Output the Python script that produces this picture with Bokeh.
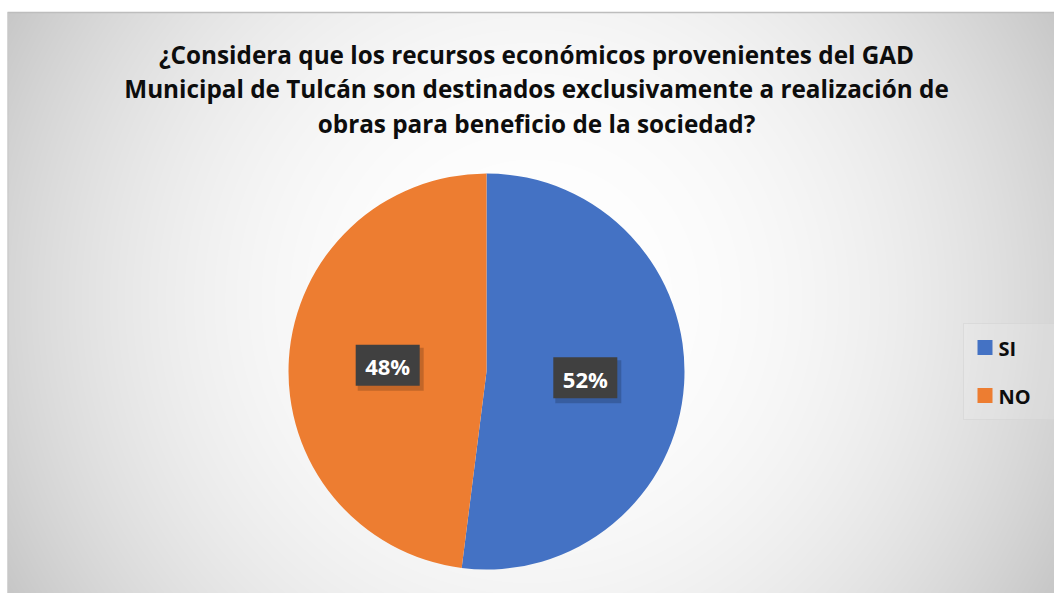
import numpy as np
from bokeh.plotting import figure
from bokeh.models import Range1d
from bokeh.core.properties import value
from bokeh.embed import file_html
from bokeh.resources import INLINE

# ---- data ----
categories = ["SI", "NO"]
shares = [52, 48]
labels = ["52%", "48%"]
colors = ["#4472C4", "#ED7D31"]
title_lines = [
    "¿Considera que los recursos económicos provenientes del GAD",
    "Municipal de Tulcán son destinados exclusivamente a realización de",
    "obras para beneficio de la sociedad?",
]

W, H = 1054, 593
p = figure(width=W, height=H, x_range=Range1d(0, W), y_range=Range1d(0, H),
           output_backend="svg", toolbar_location=None, min_border=0)
p.axis.visible = False
p.grid.visible = False
p.outline_line_color = None
p.background_fill_color = "white"
p.border_fill_color = "white"

# ---- radial gradient background (data coords: x = page x, y = 593 - page y) ----
x0 = 7
gh = H - 12
gw = W - x0
yy, xx = np.mgrid[0:gh, 0:gw]
page_x = xx + x0
page_y = H - yy
d = np.sqrt((page_x - 531.0) ** 2 + (page_y - 300.0) ** 2) / 600.0
v = 255 - 56 * np.clip(d, 0, 1.1) ** 2.3
v = np.clip(v, 0, 255).astype(np.uint32)
img = (np.uint32(255) << 24) | (v << 16) | (v << 8) | v
p.image_rgba(image=[img.astype(np.uint32)], x=x0, y=0, dw=gw, dh=gh)
p.line(x=[x0, W], y=[gh, gh], line_color="#bdbdbd", line_width=1.5)
p.line(x=[x0 + 0.5, x0 + 0.5], y=[0, gh], line_color="#c8c8c8", line_width=1)

# ---- title ----
title_x = 536
title_mid = [539, 505, 470]
p.text(x=[title_x] * 3, y=title_mid, text=title_lines,
       text_font=value("Open Sans"), text_font_style="bold", text_font_size="24.3px",
       text_color="#0d0d0d", text_align="center", text_baseline="middle")

# ---- pie ----
cx, cy, R = 486, 222, 198
fr = np.array(shares, dtype=float) / sum(shares)
cum = np.concatenate([[0], np.cumsum(fr)])
start = np.pi / 2 - cum[:-1] * 2 * np.pi
end = np.pi / 2 - cum[1:] * 2 * np.pi
p.wedge(x=cx, y=cy, radius=R, start_angle=list(start), end_angle=list(end),
        direction="clock", fill_color=colors, line_color=None)

# ---- data labels ----
mid = (start + end) / 2
lx = cx + 0.5 * R * np.cos(mid)
ly = cy + 0.5 * R * np.sin(mid)
p.rect(x=list(lx + 3), y=list(ly - 4), width=66, height=43,
       fill_color="black", fill_alpha=0.18, line_color=None)
p.rect(x=list(lx), y=list(ly), width=64, height=41,
       fill_color="#404040", line_color=None)
p.text(x=list(lx), y=list(ly - 1), text=labels,
       text_font=value("Open Sans"), text_font_style="bold", text_font_size="22px",
       text_color="white", text_align="center", text_baseline="middle")

# ---- legend ----
p.rect(x=[1009], y=[222], width=92, height=96, fill_color="white", fill_alpha=0.12,
       line_color="#d4d4d4", line_alpha=0.6)
leg_y = [246, 198]
p.rect(x=[984.5] * 2, y=leg_y, width=15, height=15, fill_color=colors, line_color=None)
p.text(x=[998] * 2, y=[yv - 1 for yv in leg_y], text=categories,
       text_font=value("Open Sans"), text_font_style="bold", text_font_size="20px",
       text_color="#0d0d0d", text_align="left", text_baseline="middle")

open("out.html", "w").write(file_html(p, INLINE))
